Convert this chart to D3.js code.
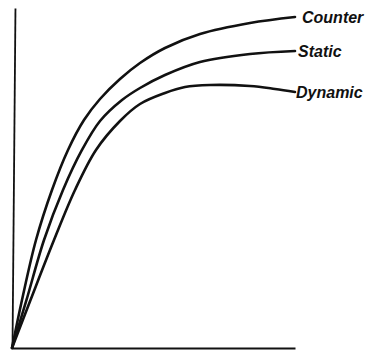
<!DOCTYPE html>
<html>
<head>
<meta charset="utf-8">
<script src="https://cdn.jsdelivr.net/npm/d3@7"></script>
<style>
  html, body { margin: 0; padding: 0; background: #fff; }
  svg { display: block; }
  .label { font-family: "Liberation Sans", Arial, sans-serif; font-weight: bold; font-style: italic; font-size: 16px; fill: #111; }
</style>
</head>
<body>
<svg id="chart" width="365" height="352"></svg>
<script>
// Curve readings (relative units, 0–100 on both axes)
const counterX = [0, 3.53, 8.48, 14.13, 19.79, 25.44, 31.10, 38.16, 45.23, 54.06, 66.43, 84.10, 100];
const counterY = [0, 14.12, 31.76, 46.47, 58.24, 67.06, 73.24, 79.12, 83.82, 88.24, 92.35, 95.59, 97.35];

const staticX = [0, 5.12, 11.31, 18.02, 24.73, 31.10, 38.87, 45.23, 54.06, 66.43, 84.10, 100];
const staticY = [0, 14.12, 31.76, 46.47, 58.24, 66.76, 72.94, 76.47, 80.29, 84.12, 86.47, 87.35];

const dynamicX = [0, 6.54, 14.84, 22.26, 29.68, 38.16, 45.23, 54.06, 61.13, 69.96, 84.10, 92.93, 100];
const dynamicY = [0, 14.12, 31.76, 46.47, 58.24, 66.76, 71.76, 75.00, 76.76, 77.35, 77.06, 76.18, 75.29];

const seriesNames = ["Counter", "Static", "Dynamic"];

const series = [
  { name: seriesNames[0], xs: counterX, ys: counterY, gap: 7 },
  { name: seriesNames[1], xs: staticX, ys: staticY, gap: 3 },
  { name: seriesNames[2], xs: dynamicX, ys: dynamicY, gap: 1 }
];

const svg = d3.select("#chart");

const x = d3.scaleLinear().domain([0, 100]).range([12, 295]);
const y = d3.scaleLinear().domain([0, 100]).range([348, 8]);

// Bare axes: no ticks, just the two lines meeting at the origin
svg.append("g")
  .attr("transform", `translate(0,${y(0)})`)
  .call(d3.axisBottom(x).tickValues([]).tickSizeOuter(0))
  .call(g => g.select(".domain").attr("stroke", "#111").attr("stroke-width", 2));

svg.append("g")
  .attr("transform", `translate(${x(0)},0) rotate(0.5, 0, ${y(0)})`)
  .call(d3.axisLeft(y).tickValues([]).tickSizeOuter(0))
  .call(g => g.select(".domain").attr("stroke", "#111").attr("stroke-width", 1.8));

const line = d3.line()
  .x(d => x(d[0]))
  .y(d => y(d[1]))
  .curve(d3.curveCatmullRom.alpha(0.5));

series.forEach(s => {
  const pts = s.xs.map((v, i) => [v, s.ys[i]]);
  svg.append("path")
    .datum(pts)
    .attr("fill", "none")
    .attr("stroke", "#111")
    .attr("stroke-width", 2.6)
    .attr("stroke-linecap", "round")
    .attr("stroke-linejoin", "round")
    .attr("d", line);

  const last = pts[pts.length - 1];
  svg.append("text")
    .attr("class", "label")
    .attr("x", x(last[0]) + s.gap)
    .attr("y", y(last[1]))
    .attr("dy", "0.36em")
    .text(s.name);
});
</script>
</body>
</html>
